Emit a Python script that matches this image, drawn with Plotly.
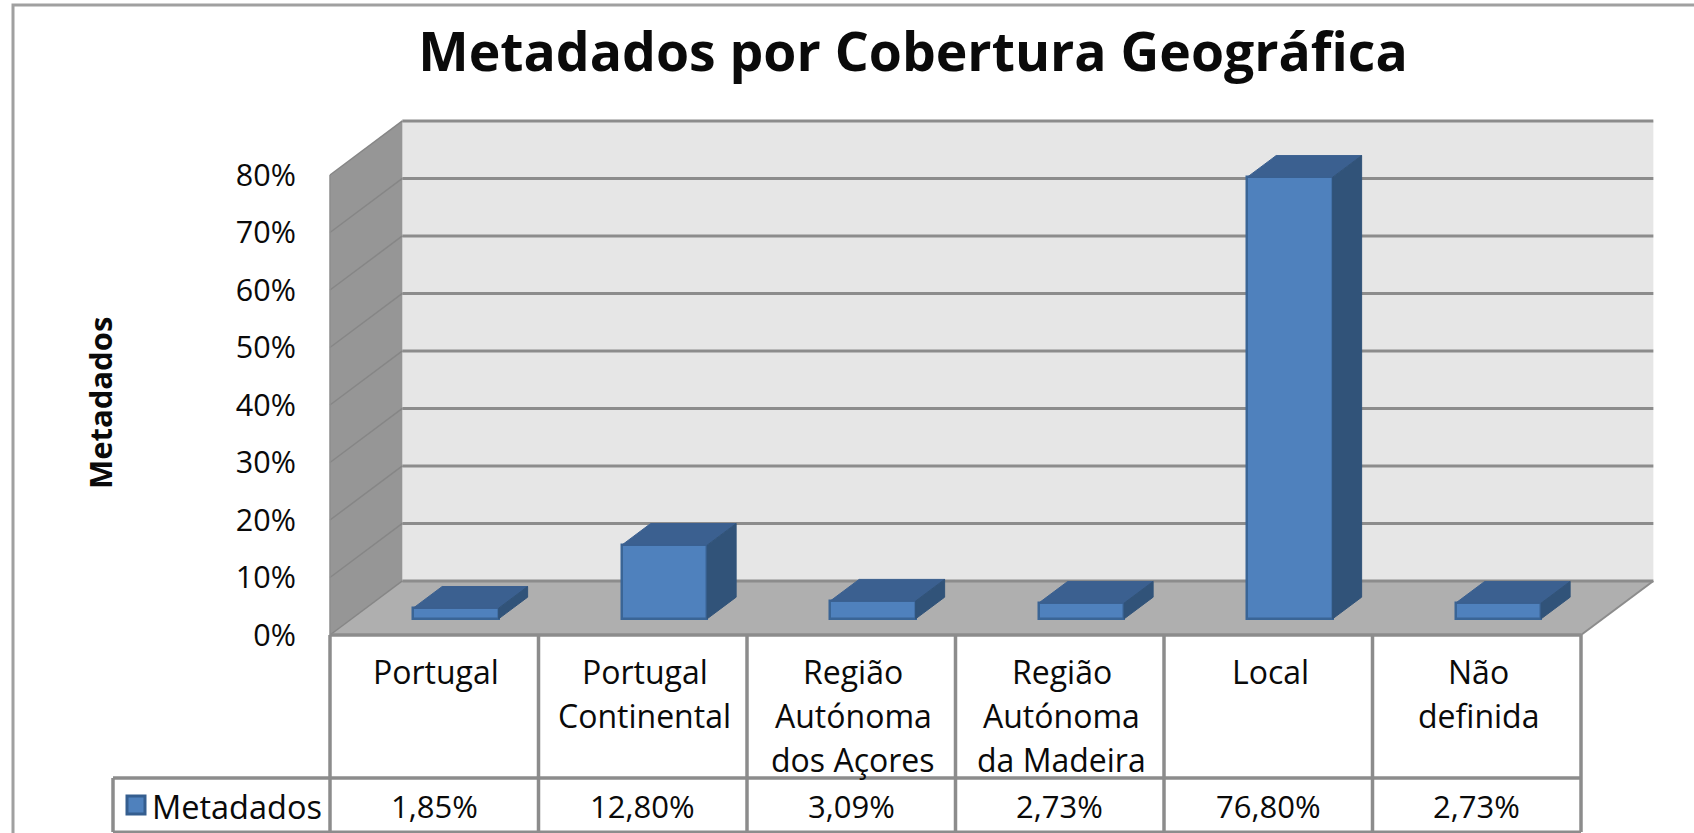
import plotly.graph_objects as go

categories = ["Portugal", "Portugal\nContinental", "Região\nAutónoma\ndos Açores",
              "Região\nAutónoma\nda Madeira", "Local", "Não\ndefinida"]
values = [1.85, 12.80, 3.09, 2.73, 76.80, 2.73]
y_ticks = [0, 10, 20, 30, 40, 50, 60, 70, 80]
y_tick_labels = ["0%", "10%", "20%", "30%", "40%", "50%", "60%", "70%", "80%"]
series_name = "Metadados"
title_text = "Metadados por Cobertura Geográfica"

# Projection constants, in data units
W, H = 1694, 833
X0_PX, Y0_PX = 330, 635
PX_PER_CAT, PX_PER_PCT = 208.5, 5.75
DX, DY = 0.347, 9.4          # depth of the 3D box
BAR_W, BAR_F, BAR_D = 0.41, 0.30, 0.40

C_FRONT, C_TOP, C_SIDE, C_EDGE = "#4f81bd", "#3b6090", "#315379", "#3a6596"
C_GRID, C_WALL, C_LEFT, C_FLOOR = "#8c8c8c", "#e6e6e6", "#969696", "#afafaf"
FONT = "Open Sans"
TXT = "#0a0a0a"

n = len(categories)
top = y_ticks[-1]
shapes = []


def poly(pts, fill, line=None, width=0):
    path = "M " + " L ".join(f"{x},{y}" for x, y in pts) + " Z"
    shapes.append(dict(type="path", path=path, fillcolor=fill, layer="below",
                       line=dict(color=line or fill, width=width)))


def seg(x0, y0, x1, y1, width=3, color=C_GRID):
    shapes.append(dict(type="line", x0=x0, y0=y0, x1=x1, y1=y1, layer="below",
                       line=dict(color=color, width=width)))


poly([(DX, DY), (n + DX, DY), (n + DX, top + DY), (DX, top + DY)], C_WALL)
poly([(0, 0), (DX, DY), (DX, top + DY), (0, top)], C_LEFT)
poly([(0, 0), (n, 0), (n + DX, DY), (DX, DY)], C_FLOOR)
for v in y_ticks:
    seg(DX, v + DY, n + DX, v + DY)
    seg(0, v, DX, v + DY, width=1.5, color="#868686")
seg(0, 0, n, 0, width=3.5)
seg(n, 0, n + DX, DY, width=2)
seg(0, 0, 0, top, width=1.5)

# Data table under the chart
ROW_Y = (Y0_PX - 778) / PX_PER_PCT
BOTTOM_Y = (Y0_PX - 832) / PX_PER_PCT
LEFT_X = (113 - X0_PX) / PX_PER_CAT
seg(LEFT_X, ROW_Y, n, ROW_Y, width=3.5)
seg(LEFT_X, ROW_Y, LEFT_X, BOTTOM_Y, width=3.5)
seg(LEFT_X, BOTTOM_Y, n, BOTTOM_Y, width=3)
for i in range(n + 1):
    seg(i, 0, i, BOTTOM_Y, width=3.5)

fig = go.Figure()
bar_x = [i + 0.5 + BAR_F * DX for i in range(n)]
bar_base = [BAR_F * DY] * n
fig.add_trace(go.Bar(x=bar_x, y=values, base=bar_base, width=BAR_W, name=series_name,
                     marker=dict(color=C_FRONT, line=dict(color=C_EDGE, width=2.5)),
                     showlegend=False))

ddx, ddy = BAR_D * DX, BAR_D * DY
for xc, b, v in zip(bar_x, bar_base, values):
    x0, x1, t = xc - BAR_W / 2, xc + BAR_W / 2, b + v
    fig.add_trace(go.Scatter(x=[x0, x1, x1 + ddx, x0 + ddx, x0], y=[t, t, t + ddy, t + ddy, t],
                             mode="lines", fill="toself", fillcolor=C_TOP,
                             line=dict(color=C_TOP, width=1), hoverinfo="skip", showlegend=False))
    fig.add_trace(go.Scatter(x=[x1, x1 + ddx, x1 + ddx, x1, x1], y=[b, b + ddy, t + ddy, t, b],
                             mode="lines", fill="toself", fillcolor=C_SIDE,
                             line=dict(color=C_SIDE, width=1), hoverinfo="skip", showlegend=False))

# Legend key in the data table
fig.add_trace(go.Scatter(x=[(136 - X0_PX) / PX_PER_CAT], y=[(Y0_PX - 805) / PX_PER_PCT], mode="markers",
                         marker=dict(symbol="square", size=18, color=C_FRONT,
                                     line=dict(color="#355e8f", width=3)),
                         hoverinfo="skip", showlegend=False))

annotations = []


def label(x, y, text, size=32, **kw):
    annotations.append(dict(x=x, y=y, text=text, showarrow=False, xanchor=kw.pop("xanchor", "center"),
                            yanchor="middle", font=dict(family=FONT, size=size, color=TXT), **kw))


LINE0, LINE_STEP = (Y0_PX - 671) / PX_PER_PCT, 44 / PX_PER_PCT
VAL_Y = (Y0_PX - 806) / PX_PER_PCT
for i, cat in enumerate(categories):
    for j, part in enumerate(cat.split("\n")):
        label(i + 0.51, LINE0 - j * LINE_STEP, part)
    label(i + 0.5, VAL_Y, f"{values[i]:.2f}".replace(".", ",") + "%", size=31)
label((150 - X0_PX) / PX_PER_CAT, VAL_Y, series_name, size=32.5, xanchor="left")
label((100 - X0_PX) / PX_PER_CAT, (Y0_PX - 403) / PX_PER_PCT, f"<b>{series_name}</b>", size=31, textangle=-90)

fig.update_layout(
    width=W, height=H, margin=dict(l=0, r=0, t=0, b=0), autosize=False,
    paper_bgcolor="white", plot_bgcolor="white", shapes=shapes, annotations=annotations,
    bargap=0, hovermode=False,
    title=dict(text=f"<b>{title_text}</b>", x=913 / W, y=1 - 52 / H, xanchor="center", yanchor="middle",
               font=dict(family=FONT, size=53.5, color=TXT)),
    xaxis=dict(range=[-X0_PX / PX_PER_CAT, (W - X0_PX) / PX_PER_CAT], visible=False, fixedrange=True),
    yaxis=dict(range=[(Y0_PX - H) / PX_PER_PCT, Y0_PX / PX_PER_PCT], anchor="free", position=X0_PX / W,
               tickmode="array", tickvals=y_ticks, ticktext=y_tick_labels, ticks="outside", ticklen=28,
               tickcolor="rgba(0,0,0,0)", showgrid=False, zeroline=False, showline=False,
               tickfont=dict(family=FONT, size=30.5, color=TXT), fixedrange=True),
)

# Outer chart frame, open towards the right and the bottom
fig.add_shape(type="rect", xref="paper", yref="paper", x0=13 / W, x1=1.01, y0=-0.01, y1=1 - 5 / H,
              line=dict(color="#a0a0a0", width=3), layer="below")

fig.write_html("out.html", config={"displayModeBar": False},
               post_script="document.body.style.margin='0';document.documentElement.style.overflow='hidden';")
